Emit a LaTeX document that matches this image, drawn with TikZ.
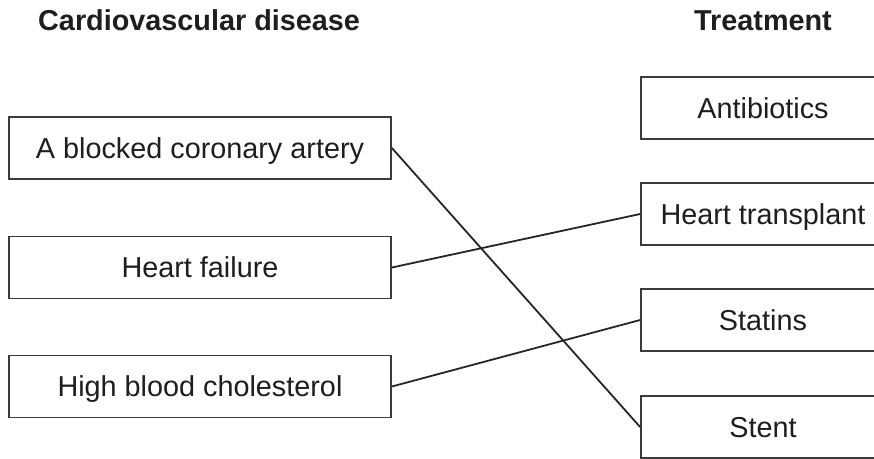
\documentclass[tikz,border=0pt]{standalone}
\usepackage{fontspec}
\setmainfont{Liberation Sans}
\begin{document}
\begin{tikzpicture}[x=1pt,y=-1pt,
  box/.style={draw=boxgray,line width=1.8pt,inner sep=0pt,text height=20.7pt,text depth=0pt,
    font=\fontsize{28.8}{32}\selectfont,text=txt},
  lbox/.style={box,minimum width=382pt,minimum height=62pt},
  rbox/.style={box,minimum width=244pt,minimum height=62pt},
  head/.style={inner sep=0pt,font=\fontsize{28.8}{32}\selectfont\bfseries,text=txt},
  link/.style={draw=linegray,line width=1.8pt}]
\definecolor{boxgray}{HTML}{3A3A3A}
\definecolor{linegray}{HTML}{262626}
\definecolor{txt}{HTML}{1E1E1E}
\useasboundingbox (0,0) rectangle (874,458);
\node[head,anchor=base west] (h1) at (38,30) {Cardiovascular disease};
\node[head,anchor=base] (h2) at (763,30) {Treatment};
\node[lbox] (d1) at (200,148) {A blocked coronary artery};
\node[lbox] (d2) at (200,267.5) {Heart failure};
\node[lbox] (d3) at (200,386.5) {High blood cholesterol};
\node[rbox] (t1) at (763,108) {Antibiotics};
\node[rbox] (t2) at (763,214) {Heart transplant};
\node[rbox] (t3) at (763,320) {Statins};
\node[rbox] (t4) at (763,427) {Stent};
\draw[link] (d1.east) -- (t4.west);
\draw[link] (d2.east) -- (t2.west);
\draw[link] (d3.east) -- (t3.west);
\end{tikzpicture}
\end{document}
